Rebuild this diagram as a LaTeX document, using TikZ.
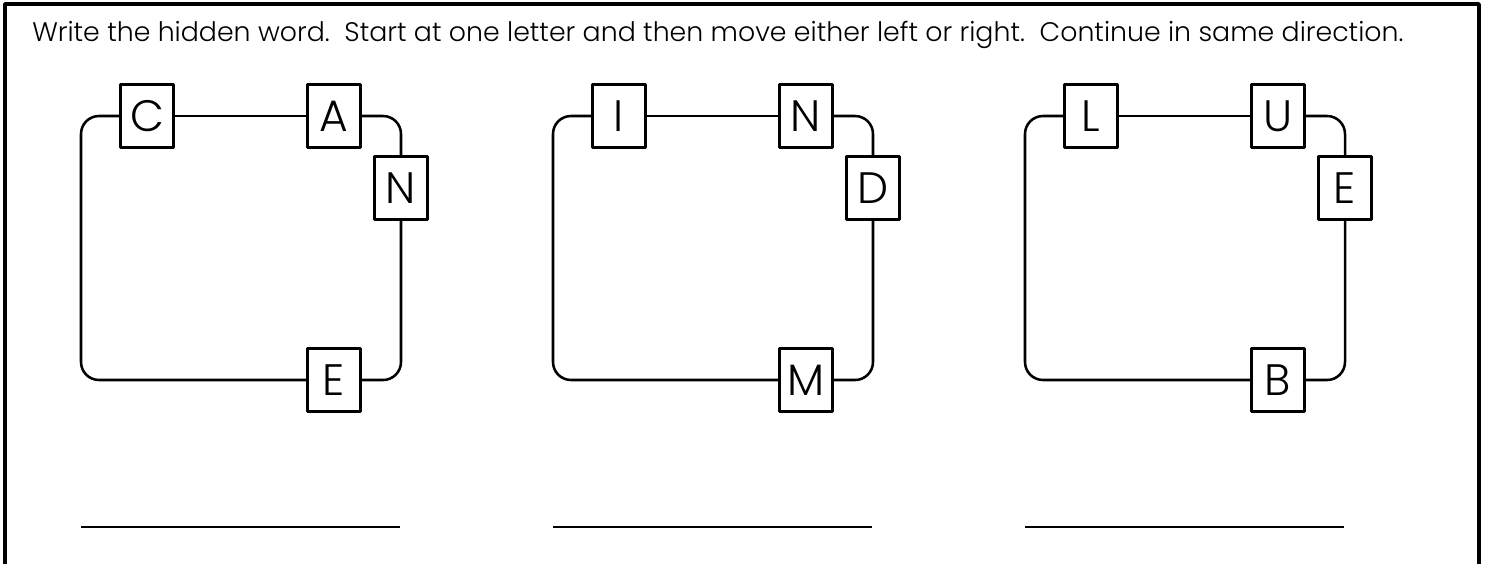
\documentclass[tikz,border=0pt]{standalone}
\usepackage{fontspec}
\setmainfont{Poppins}[UprightFont=* Light]
\usetikzlibrary{positioning}
\tikzset{
  letterbox/.style={draw, line width=1.9pt, fill=white, minimum width=39.75pt, minimum height=47.25pt, inner sep=0pt, font=\fontsize{33}{33}\selectfont},
  track/.style={line width=1.9pt, rounded corners=13.5pt},
  answer/.style={line width=2pt}
}
\begin{document}
\begin{tikzpicture}[x=0.75pt, y=-0.75pt, line join=round]
  \useasboundingbox (0,0) rectangle (1488,564);
  % frame
  \draw[line width=2.6pt] (5,564) -- (5,4) -- (1479,4) -- (1479,564);
  \node[anchor=base west, inner sep=0pt, font=\fontsize{20.1}{22}\selectfont] (task) at (32,41)
    {Write the hidden word.\ \ Start at one letter and then move either left or right.\ \ Continue in same direction.};
  \foreach \i/\p/\q/\r/\s in {0/C/A/N/E, 1/I/N/D/M, 2/L/U/E/B}{
    \begin{scope}[xshift=\i*472*0.75pt]
      \node[letterbox] (p\i) at (147,116) {\p};
      \node[letterbox] (q\i) at (334,116) {\q};
      \node[letterbox] (r\i) at (401,188) {\r};
      \node[letterbox] (s\i) at (334,380) {\s};
      \draw[track] (p\i) -- (q\i);
      \draw[track] (q\i.east) -| (r\i.north);
      \draw[track] (r\i.south) |- (s\i.east);
      \draw[track] (s\i.west) -| (81,116) -- (p\i.west);
      \coordinate (u\i) at (81,527);
      \coordinate (v\i) at (400,527);
      \draw[answer] (u\i) -- (v\i);
    \end{scope}
  }
\end{tikzpicture}
\end{document}
